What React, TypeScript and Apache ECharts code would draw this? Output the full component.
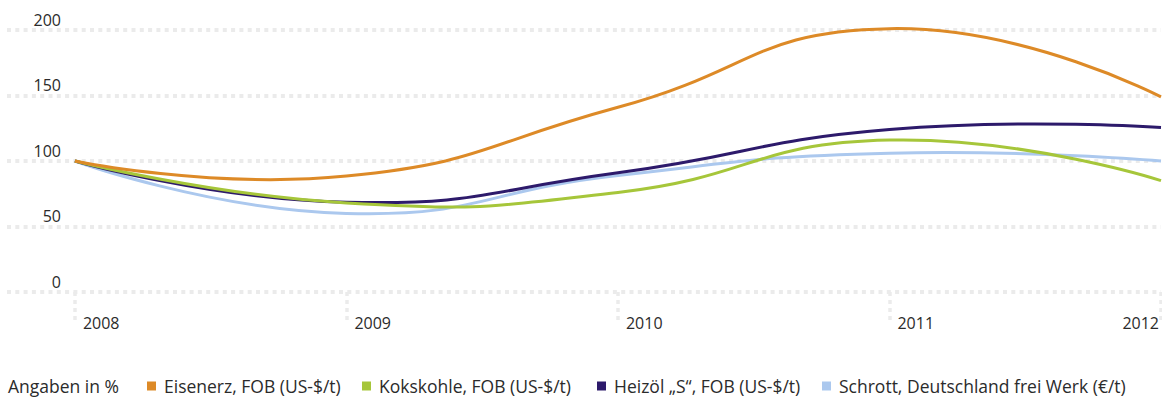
import React, { useEffect, useRef } from "react";
import * as echarts from "echarts";

const years = [2008, 2009, 2010, 2011, 2012];
const leftYearLabels = [2008, 2009, 2010, 2011];
const rightYearLabels = [2012];
const eisenerz = [100, 88.5, 141, 201, 149];
const kokskohle = [100, 68, 76, 116, 85];
const heizoel = [100, 68.5, 91, 124, 125.5];
const schrott = [100, 60, 89, 106, 100];
const seriesNames = [
  "Eisenerz, FOB (US-$/t)",
  "Kokskohle, FOB (US-$/t)",
  "Heizöl „S“, FOB (US-$/t)",
  "Schrott, Deutschland frei Werk (€/t)",
];
const seriesValues = [eisenerz, kokskohle, heizoel, schrott];
const colors = ["#dd8a27", "#a6c63a", "#2d1a6b", "#abc8ee"];
const legendLefts = [147, 362, 597, 822];
const seriesZ = [5, 4, 3, 2];
const note = "Angaben in %";

const FONT = "'Open Sans', sans-serif";
const TEXT = "#2b2b2b";
const GRID_COLOR = "#ebebeb";

export default function App() {
  const ref = useRef<HTMLDivElement>(null);
  useEffect(() => {
    if (!ref.current) return;
    const chart = echarts.init(ref.current, undefined, { renderer: "svg" });
    const xBase = {
      type: "value",
      min: 2007.75,
      max: 2012,
      position: "bottom",
      offset: 8,
      axisLine: { show: false },
      splitLine: { show: false },
    };
    chart.setOption({
      animation: false,
      textStyle: { fontFamily: FONT },
      grid: { left: 7, right: 0, top: 30, bottom: 108 },
      graphic: [
        {
          type: "text",
          left: 8,
          top: 376,
          style: { text: note, fontSize: 17.5, fontFamily: FONT, fill: TEXT, lineHeight: 20 },
        },
      ],
      legend: seriesNames.map((n, i) => ({
        data: [n],
        left: legendLefts[i],
        top: 376,
        padding: 0,
        icon: "rect",
        itemWidth: 9,
        itemHeight: 9,
        selectedMode: false,
        textStyle: { fontSize: 17.5, color: TEXT, fontFamily: FONT, lineHeight: 20, padding: [0, 0, 0, 3] },
      })),
      xAxis: [
        {
          ...xBase,
          axisTick: {
            show: true,
            customValues: years,
            length: 30,
            lineStyle: { color: GRID_COLOR, width: 3.5, type: [4, 4] },
          },
          axisLabel: {
            customValues: leftYearLabels,
            formatter: (v: number) => String(v),
            align: "left",
            padding: [0, 0, 0, 8],
            margin: 15,
            fontSize: 16,
            color: TEXT,
            fontFamily: FONT,
          },
        },
        {
          ...xBase,
          axisTick: { show: false },
          axisLabel: {
            customValues: rightYearLabels,
            formatter: (v: number) => String(v),
            align: "right",
            padding: [0, 2, 0, 0],
            margin: 15,
            fontSize: 16,
            color: TEXT,
            fontFamily: FONT,
          },
        },
      ],
      yAxis: {
        type: "value",
        min: 0,
        max: 200,
        interval: 50,
        axisLine: { show: false },
        axisTick: { show: false },
        splitLine: { show: true, lineStyle: { color: GRID_COLOR, width: 4, type: [4, 4.3] } },
        axisLabel: {
          margin: -54,
          fontSize: 16,
          color: TEXT,
          fontFamily: FONT,
          verticalAlign: "bottom",
          lineHeight: 21,
        },
      },
      series: seriesNames.map((n, i) => ({
        name: n,
        type: "custom",
        xAxisIndex: 0,
        z: seriesZ[i],
        itemStyle: { color: colors[i] },
        encode: { x: 0, y: 1 },
        data: years.map((y, j) => [y, seriesValues[i][j]]),
        renderItem: (params: any, api: any) => {
          if (params.dataIndex !== 0) return { type: "group", children: [] };
          const pts = years.map((y, j) => api.coord([y, seriesValues[i][j]]));
          return {
            type: "polyline",
            shape: { points: pts, smooth: 0.5 },
            style: { stroke: colors[i], lineWidth: 3, fill: "none" },
            silent: true,
          };
        },
      })),
    });
    return () => chart.dispose();
  }, []);
  return (
    <div
      ref={ref}
      style={{ position: "absolute", left: 0, top: 0, width: 1162, height: 400 }}
    />
  );
}
